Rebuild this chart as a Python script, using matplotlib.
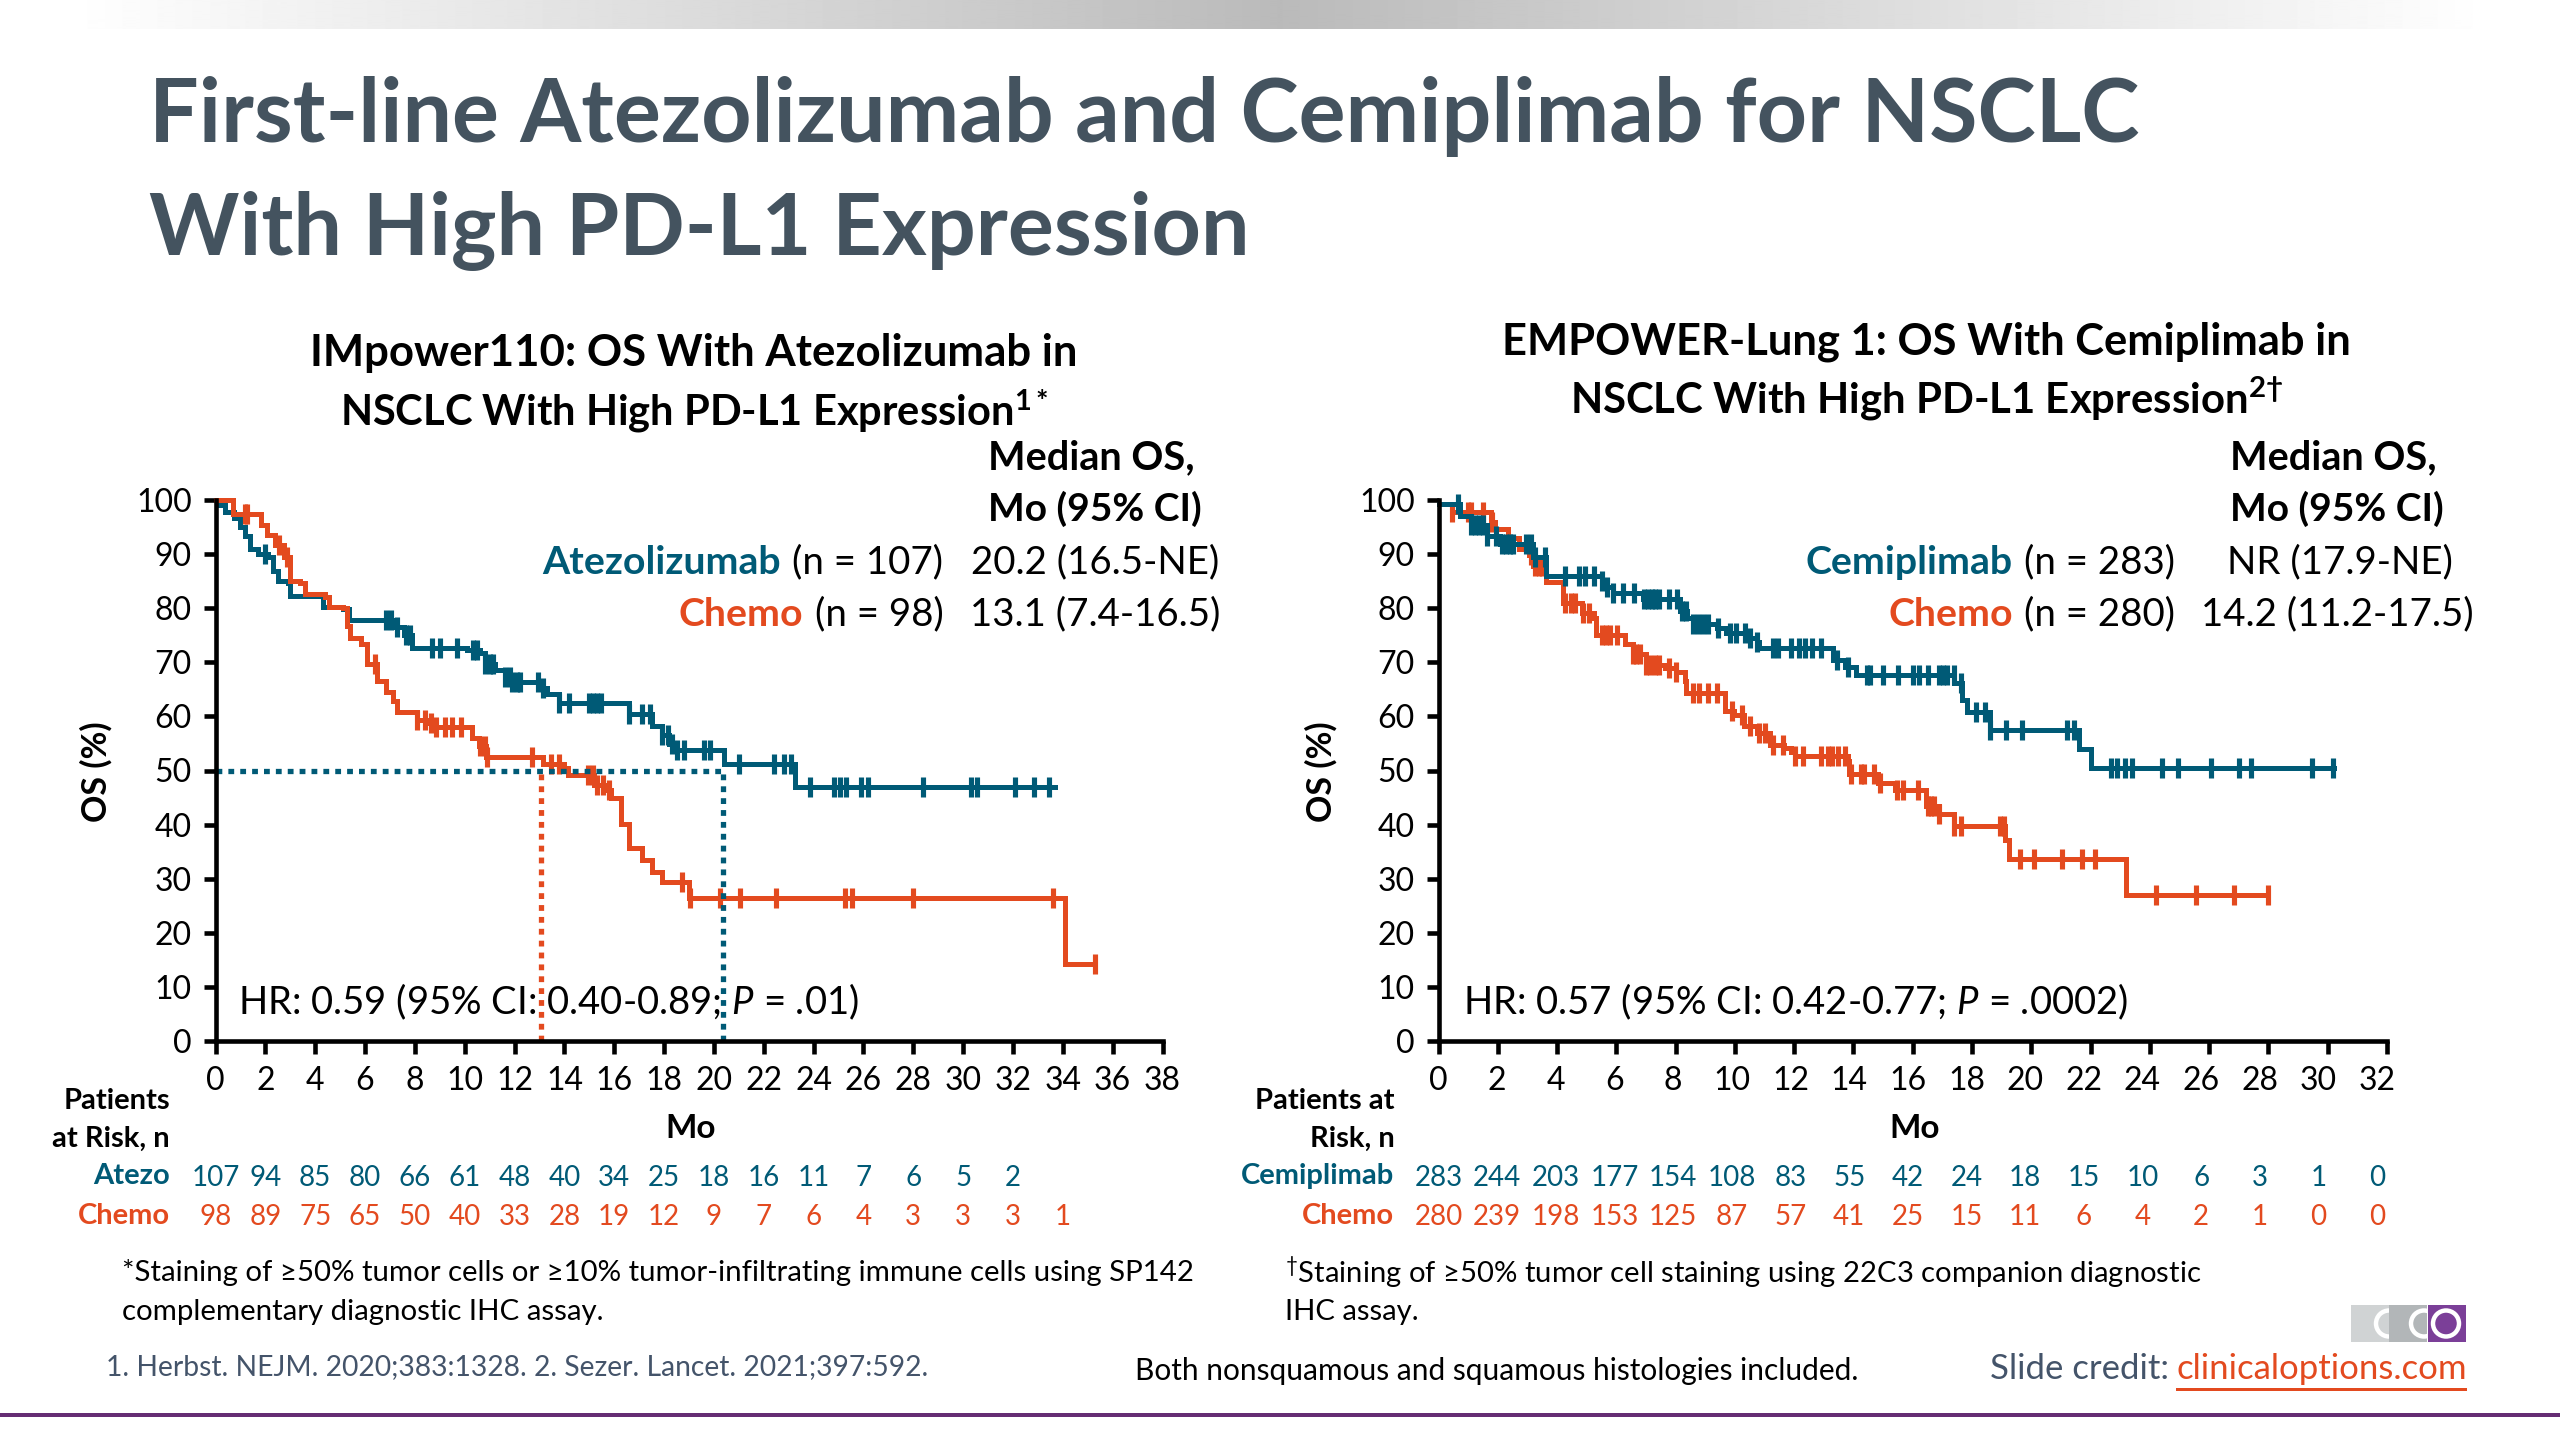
import numpy as np
import matplotlib
matplotlib.use('Agg')
import matplotlib.pyplot as plt
from matplotlib.patches import Rectangle, Circle
from matplotlib.transforms import blended_transform_factory

plt.rcParams['font.family'] = ['Lato', 'DejaVu Sans']
plt.rcParams['mathtext.fontset'] = 'custom'
plt.rcParams['mathtext.rm'] = 'Lato'
plt.rcParams['mathtext.it'] = 'Lato:italic'
plt.rcParams['mathtext.bf'] = 'Lato:bold'

TEAL = '#005A76'
ORANGE = '#E34A1F'
SLATE = '#44546A'
TITLE = '#44535F'

# IMpower110 curves, month of each drop and survival after it
atezo_t = [0, 0.2, 0.4, 0.75, 0.97, 1.2, 1.4, 1.7, 2.1, 2.3, 2.5, 2.9, 3.0, 4.3, 5.1, 5.35, 7.2, 7.56, 7.9,
           10.1, 10.6, 10.8, 11.2, 11.6, 11.9, 13.0, 13.3, 13.8, 16.6, 17.5, 17.9, 18.2, 18.4, 20.4, 23.25, 33.7]
atezo_s = [100, 99, 97.7, 96.7, 95, 93.3, 91, 90, 89.5, 86.8, 85, 84.7, 82.3, 80.3, 79.8, 77.9, 76.5, 75.1, 72.7,
           72.2, 71.7, 69.7, 68.6, 67.3, 66.4, 65.2, 64.2, 62.4, 60.4, 58.2, 56.5, 54.9, 53.8, 51.2, 47.0, 47.0]
atezo_cens = [2.0, 6.85, 7.05, 7.3, 7.65, 7.8, 8.7, 9.0, 9.7, 10.35, 10.5, 10.8, 11.0, 11.15, 11.6, 11.8, 11.9,
              12.1, 12.2, 12.95, 13.15, 13.8, 14.2, 15.0, 15.15, 15.3, 15.45, 16.6, 17.1, 17.45, 17.9, 18.15, 18.3,
              18.5, 18.8, 19.6, 19.84, 21.0, 22.4, 22.8, 23.1, 23.87, 24.8, 25.07, 25.3, 25.9, 26.2, 28.4, 30.3,
              30.55, 32.1, 32.85, 33.45]

chemo1_t = [0, 0.7, 1.83, 2.05, 2.4, 2.76, 2.98, 3.4, 3.6, 4.4, 4.55, 5.1, 5.27, 5.4, 5.85, 6.06, 6.5, 6.85, 7.13,
            7.28, 8.07, 8.5, 8.85, 10.3, 10.57, 10.86, 13.15, 14.0, 14.15, 15.2, 15.73, 15.87, 16.26, 16.6, 17.13,
            17.5, 17.9, 19.0, 34.1, 35.3]
chemo1_s = [100, 97.5, 95.3, 93.6, 91.6, 89.5, 85, 84.7, 82.7, 82, 80.3, 80, 76.8, 74.5, 73.4, 69.7, 66.6, 64.5, 62.8,
            60.8, 59.4, 58.7, 58, 56, 54.6, 52.5, 51.2, 50.5, 49.1, 47.4, 46.4, 44.9, 40.1, 35.6, 33.4,
            31.2, 29.4, 26.5, 14.3, 14.3]
chemo1_cens = [1.2, 1.28, 2.55, 2.85, 6.4, 8.07, 8.4, 8.65, 8.85, 9.2, 9.5, 9.85, 10.6, 10.8, 10.9, 12.7, 13.45, 13.8,
               14.95, 15.15, 15.3, 15.55, 15.8, 18.7, 19.05, 20.25, 21.05, 22.5, 25.25, 25.55, 28.0, 33.6, 35.3]

# EMPOWER-Lung 1 curves
cemi_t = [0, 0.72, 1.1, 1.63, 2.08, 3.2, 3.63, 5.5, 5.7, 5.9, 6.9, 8.16, 8.4, 8.6, 9.4, 9.7, 10.36, 10.75, 10.8,
          13.3, 13.7, 14.1, 17.4, 17.67, 17.84, 18.6, 21.6, 22.0, 30.2]
cemi_s = [99.2, 97, 95.3, 93.3, 91.8, 89.5, 86, 85, 83.9, 82.9, 81.7, 79.5, 78.2, 77.1, 76.4, 75.4, 74.4, 73.7, 72.6,
          70.5, 69.2, 67.7, 66.2, 63.1, 60.9, 57.5, 54, 50.5, 50.5]
cemi_cens = [0.66, 1.1, 1.24, 1.37, 1.5, 1.63, 1.93, 2.15, 2.28, 2.4, 2.53, 2.96, 3.12, 3.27, 3.6, 4.28, 4.73, 4.93,
             5.25, 5.5, 5.7, 5.9, 6.22, 6.58, 6.93, 7.06, 7.19, 7.32, 7.45, 7.77, 8.03, 8.23, 8.36, 8.6, 8.75, 8.94,
             9.1, 9.43, 9.82, 10.04, 10.34, 10.5, 10.75, 11.27, 11.46, 11.9, 12.17, 12.37, 12.6, 12.9, 13.44, 13.8,
             14.44, 14.57, 15.0, 15.5, 16.0, 16.2, 16.5, 16.9, 17.03, 17.14, 17.38, 17.64, 18.13, 18.45, 18.6, 19.16,
             19.7, 21.2, 21.45, 22.7, 22.9, 23.15, 23.4, 24.4, 24.95, 26.06, 27.0, 27.4, 29.47, 30.18]

chemo2_t = [0, 0.47, 1.76, 1.9, 2.34, 2.73, 3.05, 3.18, 3.63, 4.2, 4.85, 5.25, 5.3, 6.3, 6.55, 7.0, 7.65, 8.0, 8.3,
            8.36, 9.65, 9.97, 10.3, 10.75, 11.2, 11.66, 11.9, 12.04, 13.8, 13.85, 14.83, 15.4, 16.44, 16.9, 17.38,
            19.12, 19.24, 23.2, 28.0]
chemo2_s = [99.2, 97.7, 96, 94.6, 92.9, 90.9, 89.8, 87.8, 84.8, 80.9, 79.1, 78.2, 75, 73.3, 71.6, 69.5, 68.9, 68.2,
            66.5, 64.4, 61, 60.3, 58.2, 56.9, 54.8, 54.1, 53.4, 52.7, 51.7, 49.3, 47.6, 46.4, 43.5, 41.9, 39.7,
            37.2, 33.7, 27.0, 27.0]
chemo2_cens = [0.47, 1.0, 1.1, 1.5, 1.82, 3.12, 3.25, 3.38, 3.5, 4.28, 4.48, 4.6, 4.86, 5.08, 5.5, 5.65, 5.77, 6.03,
               6.55, 6.68, 6.8, 7.0, 7.15, 7.32, 7.45, 7.77, 8.0, 8.6, 8.78, 9.1, 9.4, 9.9, 10.23, 10.5, 10.8, 11.0,
               11.27, 11.63, 12.04, 12.3, 12.9, 13.14, 13.27, 13.47, 13.7, 13.92, 14.24, 14.37, 14.7, 14.9, 15.47,
               15.67, 16.17, 16.5, 16.6, 16.73, 16.9, 17.4, 17.63, 18.93, 19.07, 19.62, 20.1, 21.05, 21.7, 22.16,
               24.2, 25.55, 26.84, 28.0]

# patients at risk
risk_atezo = [107, 94, 85, 80, 66, 61, 48, 40, 34, 25, 18, 16, 11, 7, 6, 5, 2]
risk_chemo1 = [98, 89, 75, 65, 50, 40, 33, 28, 19, 12, 9, 7, 6, 4, 3, 3, 3, 1]
risk_cemi = [283, 244, 203, 177, 154, 108, 83, 55, 42, 24, 18, 15, 10, 6, 3, 1, 0]
risk_chemo2 = [280, 239, 198, 153, 125, 87, 57, 41, 25, 15, 11, 6, 4, 2, 1, 0, 0]

months1 = list(range(0, 39, 2))
months2 = list(range(0, 33, 2))
os_ticks = list(range(0, 101, 10))

W, H = 2560, 1440
S = W / 1568.0  # reading scale for positions taken from the slide

fig = plt.figure(figsize=(25.6, 14.4), dpi=100, facecolor='white')
bg = fig.add_axes([0, 0, 1, 1])
bg.set_xlim(0, W)
bg.set_ylim(H, 0)
bg.axis('off')


def txt(x, y, s, size=24, color='black', ha='left', va='center', **kw):
    return bg.text(x * S, (y + 1.5) * S, s, fontsize=size, color=color, ha=ha, va=va, **kw)


# top gradient band and bottom rule
grad_x = [70, 1280, 2490]
grad_v = [1.0, 0.73, 1.0]
xs = np.arange(70, 2491)
band = np.interp(xs, grad_x, grad_v)[None, :]
bg.imshow(band, extent=(70, 2490, 29, 0), cmap='gray', vmin=0, vmax=1, aspect='auto', zorder=0)
bg.set_xlim(0, W)
bg.set_ylim(H, 0)
bg.add_patch(Rectangle((0, 1413), W, 4, color='#652D73', lw=0))

# title
txt(91, 70, 'First-line Atezolizumab and Cemiplimab for NSCLC', size=63.3, color=TITLE, fontweight='bold')
txt(91, 140, 'With High PD-L1 Expression', size=62, color=TITLE, fontweight='bold')


def draw_km(left, right, xmax, curves, ticks):
    ax = fig.add_axes([left / W, 1 - 1041 / H, (right - left) / W, 541 / H])
    ax.patch.set_alpha(0)
    ax.set_xlim(0, xmax)
    ax.set_ylim(0, 100)
    for t, s, cens, col in curves:
        ax.step(t, s, where='post', color=col, lw=3.6, clip_on=False, solid_joinstyle='miter')
        idx = np.searchsorted(t, cens, side='right') - 1
        ax.plot(cens, np.array(s)[idx], ls='none', marker='|', ms=15, mew=3.7, color=col, clip_on=False)
    ax.spines['top'].set_visible(False)
    ax.spines['right'].set_visible(False)
    ax.spines['left'].set_linewidth(3.3)
    ax.spines['bottom'].set_linewidth(3.3)
    ax.set_xticks(ticks)
    ax.set_yticks(os_ticks)
    ax.set_xticklabels([])
    ax.tick_params(axis='both', length=9, width=3.3, labelsize=23, color='black')
    ax.tick_params(axis='y', pad=8)
    return ax


ax1 = draw_km(215.5, 1162.5, 38, [(atezo_t, atezo_s, atezo_cens, TEAL), (chemo1_t, chemo1_s, chemo1_cens, ORANGE)], months1)
ax2 = draw_km(1438.5, 2387, 32, [(chemo2_t, chemo2_s, chemo2_cens, ORANGE), (cemi_t, cemi_s, cemi_cens, TEAL)], months2)

# median lines on the left panel
dots = (0, (1.1, 1.15))
ax1.plot([0, 20.35], [50, 50], color=TEAL, lw=3.8, ls=dots, dash_capstyle='butt')
ax1.plot([13.08, 13.08], [0, 50], color=ORANGE, lw=3.8, ls=dots, dash_capstyle='butt')
ax1.plot([20.35, 20.35], [0, 50], color=TEAL, lw=3.8, ls=dots, dash_capstyle='butt')

# panel headings
txt(425, 215, 'IMpower110: OS With Atezolizumab in', size=31.5, ha='center', fontweight='bold')
txt(425, 250, 'NSCLC With High PD-L1 Expression$^{\\mathbf{1*}}$', size=30, ha='center', fontweight='bold')
txt(1180, 208, 'EMPOWER-Lung 1: OS With Cemiplimab in', size=31.3, ha='center', fontweight='bold')
txt(1180, 243, 'NSCLC With High PD-L1 Expression$^{\\mathbf{2\u2020}}$', size=30.2, ha='center', fontweight='bold')

# median OS tables
txt(605, 279, 'Median OS,', size=28.5, fontweight='bold')
txt(605, 310, 'Mo (95% CI)', size=28, fontweight='bold')
txt(478, 343, 'Atezolizumab', size=28.3, color=TEAL, ha='right', fontweight='bold')
txt(485, 343, '(n = 107)', size=27.7)
txt(595, 343, '20.2 (16.5-NE)', size=27.7)
txt(492, 375, 'Chemo', size=28.3, color=ORANGE, ha='right', fontweight='bold')
txt(499, 375, '(n = 98)', size=27.7)
txt(594, 375, '13.1 (7.4-16.5)', size=27.7)

txt(1366, 279, 'Median OS,', size=28.5, fontweight='bold')
txt(1366, 310, 'Mo (95% CI)', size=28, fontweight='bold')
txt(1233, 343, 'Cemiplimab', size=28.3, color=TEAL, ha='right', fontweight='bold')
txt(1240, 343, '(n = 283)', size=27.7)
txt(1364, 343, 'NR (17.9-NE)', size=27.7)
txt(1233, 375, 'Chemo', size=28.3, color=ORANGE, ha='right', fontweight='bold')
txt(1240, 375, '(n = 280)', size=27.7)
txt(1348, 375, '14.2 (11.2-17.5)', size=27.7)

# hazard ratios
txt(146, 612, 'HR: 0.59 (95% CI: 0.40-0.89; $\\mathit{P}$ = .01)', size=27.5)
txt(896, 612, 'HR: 0.57 (95% CI: 0.42-0.77; $\\mathit{P}$ = .0002)', size=27.5)

# axis names
txt(59, 471, 'OS (%)', size=24.5, ha='center', rotation=90, fontweight='bold')
txt(809, 471, 'OS (%)', size=24.5, ha='center', rotation=90, fontweight='bold')
txt(423, 690, 'Mo', size=24, ha='center', fontweight='bold')
txt(1173, 690, 'Mo', size=24, ha='center', fontweight='bold')

# at risk tables
txt(104, 673, 'Patients', size=21, ha='right', fontweight='bold')
txt(104, 696, 'at Risk, n', size=21, ha='right', fontweight='bold')
txt(854, 673, 'Patients at', size=21, ha='right', fontweight='bold')
txt(854, 696, 'Risk, n', size=21, ha='right', fontweight='bold')
txt(104, 719, 'Atezo', size=21, color=TEAL, ha='right', fontweight='bold')
txt(104, 743, 'Chemo', size=21, color=ORANGE, ha='right', fontweight='bold')
txt(854, 719, 'Cemiplimab', size=21, color=TEAL, ha='right', fontweight='bold')
txt(854, 743, 'Chemo', size=21, color=ORANGE, ha='right', fontweight='bold')


def label_row(ax, ticks, values, y, col='black', size=20, squeeze=1.0):
    # the month labels and counts on the right panel sit a little tighter than its ticks
    tr = blended_transform_factory(ax.transData, bg.transData)
    for m, n in zip(ticks, values):
        bg.text(m * squeeze, y * S, str(n), transform=tr, fontsize=size, color=col, ha='center', va='center')


label_row(ax1, months1, months1, 662, size=23)
label_row(ax2, months2, months2, 662, size=23, squeeze=0.9895)
label_row(ax1, months1, risk_atezo, 721.5, TEAL)
label_row(ax1, months1, risk_chemo1, 745.5, ORANGE)
label_row(ax2, months2, risk_cemi, 721.5, TEAL, squeeze=0.9895)
label_row(ax2, months2, risk_chemo2, 745.5, ORANGE, squeeze=0.9895)

# footnotes
txt(75, 778, '*Staining of \u226550% tumor cells or \u226510% tumor-infiltrating immune cells using SP142', size=21.2)
txt(75, 802, 'complementary diagnostic IHC assay.', size=21.2)
txt(787, 778, '$^{\u2020}$Staining of \u226550% tumor cell staining using 22C3 companion diagnostic', size=21.1)
txt(787, 802, 'IHC assay.', size=21.1)
txt(65, 836, '1. Herbst. NEJM. 2020;383:1328. 2. Sezer. Lancet. 2021;397:592.', size=20.3, color=SLATE)
txt(695, 838, 'Both nonsquamous and squamous histologies included.', size=21.5)
txt(1219, 837, 'Slide credit:', size=25, color=SLATE)
txt(1333, 837, 'clinicaloptions.com', size=25, color=ORANGE)
bg.add_patch(Rectangle((1333 * S, 1388), 178 * S, 3, color=ORANGE, lw=0))

# logo
boxes = [(2351, '#D0D3D4'), (2389, '#B2B6B8'), (2428, '#7B3F98')]
centers = [2389, 2424, 2446]
for (bx, bc), cx in zip(boxes, centers):
    r = bg.add_patch(Rectangle((bx, 1305), 38, 37, color=bc, lw=0))
    ring = bg.add_patch(Circle((cx, 1323.5), 13, fill=False, ec='white', lw=3.2))
    ring.set_clip_path(r)

fig.savefig('out.png', dpi=100)
